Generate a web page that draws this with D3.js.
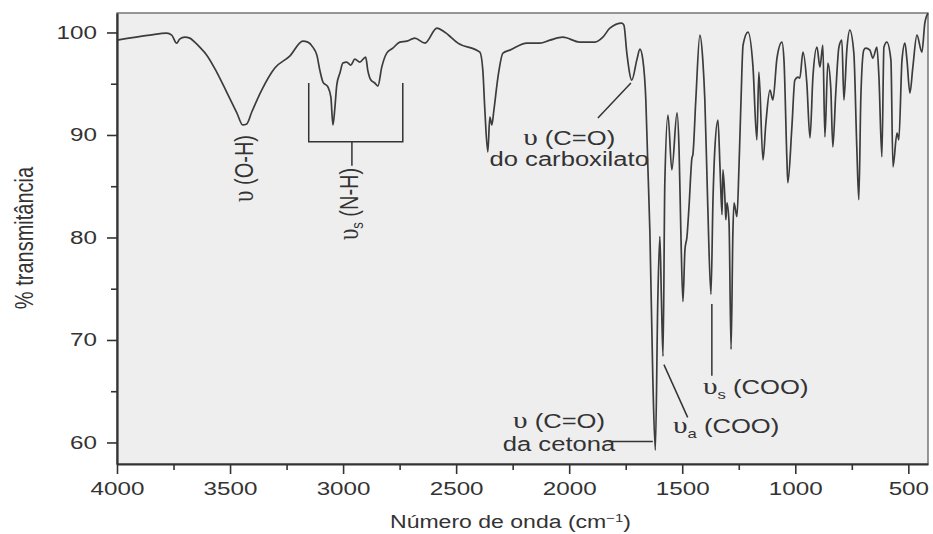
<!DOCTYPE html>
<html>
<head>
<meta charset="utf-8">
<script src="https://cdn.jsdelivr.net/npm/d3@7"></script>
<style>
  body { margin: 0; background: #fff; }
  text { font-family: "Liberation Sans", Arial, sans-serif; fill: #333; }
</style>
</head>
<body>
<div id="chart"></div>
<script>
// IR spectrum (cm-1 and % transmittance)
const wavenumber = [
  4000, 3855, 3780, 3758, 3736, 3723, 3700, 3678, 3656, 3634, 3603, 3559, 3515, 3470, 3444, 3426,
  3404, 3360, 3302, 3236, 3178, 3156, 3134, 3116, 3103, 3089, 3067, 3054, 3045, 3036, 3028, 3014,
  3001, 2984, 2966, 2948, 2926, 2900, 2891, 2877, 2860, 2846, 2829, 2807, 2780, 2749, 2718, 2683,
  2638, 2585, 2550, 2492, 2395, 2382, 2373, 2360, 2351, 2342, 2333, 2315, 2293, 2262, 2187, 2130,
  2085, 2028, 1953, 1886, 1851, 1820, 1767, 1758, 1745, 1723, 1701, 1687, 1674, 1661, 1652, 1643,
  1630, 1619, 1608, 1599, 1592, 1585, 1577, 1563, 1546, 1523, 1514, 1506, 1497, 1488, 1479, 1470,
  1457, 1453, 1440, 1422, 1409, 1400, 1387, 1373, 1364, 1356, 1342, 1333, 1324, 1320, 1311, 1307,
  1302, 1293, 1284, 1276, 1271, 1258, 1249, 1240, 1231, 1209, 1187, 1170, 1161, 1143, 1130, 1112,
  1099, 1081, 1059, 1050, 1037, 1033, 1015, 1002, 988, 980, 966, 949, 935, 922, 904, 891,
  878, 869, 856, 843, 834, 821, 807, 794, 785, 772, 759, 741, 728, 719, 710, 697,
  688, 670, 657, 639, 630, 617, 608, 595, 577, 568, 550, 542, 528, 515, 506, 493,
  480, 462, 440, 427, 413
];
const transmittance = [
  99.25, 99.74, 99.93, 99.74, 98.96, 99.35, 99.54, 99.45, 99.06, 98.57, 97.79, 96.14, 94.19, 92.15, 90.98, 91.08,
  92.24, 94.38, 96.53, 97.69, 99.15, 99.06, 98.57, 97.79, 96.33, 95.16, 94.68, 93.70, 90.98, 92.73, 94.87, 96.04,
  97.01, 97.11, 96.82, 97.40, 97.11, 97.60, 96.33, 95.36, 95.07, 94.77, 96.62, 97.99, 98.47, 99.06, 99.15, 99.45,
  98.96, 100.42, 100.03, 98.96, 98.08, 96.33, 92.43, 88.35, 91.75, 90.98, 92.43, 95.65, 97.99, 98.28, 98.96, 98.96,
  99.25, 99.54, 99.06, 99.06, 99.54, 100.42, 100.91, 100.71, 97.99, 95.36, 97.30, 98.37, 97.30, 93.41, 86.89, 80.47,
  66.16, 59.25, 73.96, 80.09, 73.96, 68.41, 85.34, 91.95, 86.60, 92.15, 88.55, 80.47, 73.75, 78.81, 80.09, 83.01,
  87.77, 88.06, 93.41, 99.74, 97.30, 93.41, 83.01, 74.45, 83.68, 88.55, 91.46, 86.89, 82.22, 86.60, 83.68, 81.73,
  83.39, 81.44, 69.08, 80.47, 83.39, 82.03, 86.89, 93.41, 98.76, 100.03, 96.62, 89.52, 96.14, 87.57, 91.17, 94.38,
  93.41, 97.50, 99.06, 97.30, 87.57, 85.34, 90.78, 95.36, 95.65, 95.55, 98.08, 95.07, 89.71, 95.65, 98.57, 96.62,
  98.76, 89.81, 97.01, 94.58, 88.84, 94.09, 98.57, 99.25, 93.41, 98.28, 100.22, 97.99, 88.84, 83.68, 93.70, 98.28,
  98.47, 98.28, 97.50, 98.57, 95.65, 87.87, 98.57, 99.06, 97.30, 86.89, 90.19, 89.52, 97.30, 98.96, 97.30, 94.09,
  96.62, 99.74, 98.08, 100.91, 101.88
];

const xTicks = [4000, 3500, 3000, 2500, 2000, 1500, 1000, 500];
const xMinorTicks = [3750, 3250, 2750, 2250, 1750, 1250, 750];
const yTicks = [60, 70, 80, 90, 100];
const yMinorTicks = [65, 75, 85, 95];

const width = 933;
const height = 534;
const margin = { top: 13, right: 5, bottom: 70, left: 117 };
const stretch = 1.28; // the lettering in the picture is a bit wide

const svg = d3.select('#chart')
  .append('svg')
  .attr('width', width)
  .attr('height', height);

const x = d3.scaleLinear().domain([4000, 413]).range([margin.left, width - margin.right]);
const y = d3.scaleLinear().domain([57.9, 101.9]).range([height - margin.bottom, margin.top]);

// plot area
svg.append('rect')
  .attr('x', margin.left)
  .attr('y', margin.top)
  .attr('width', width - margin.left - margin.right)
  .attr('height', height - margin.top - margin.bottom)
  .attr('fill', '#eeeeee')
  .attr('stroke', '#555')
  .attr('stroke-width', 1.2);

// spectrum
const points = wavenumber.map((w, i) => [w, transmittance[i]]);
const line = d3.line()
  .x(d => x(d[0]))
  .y(d => y(d[1]))
  .curve(d3.curveMonotoneX);

svg.append('path')
  .datum(points)
  .attr('d', line)
  .attr('fill', 'none')
  .attr('stroke', '#3c3c3c')
  .attr('stroke-width', 1.7)
  .attr('stroke-linejoin', 'round');

// axes
const styleAxis = g => {
  g.selectAll('path.domain').attr('stroke', '#333').attr('stroke-width', 2.2);
  g.selectAll('.tick line').attr('stroke', '#333').attr('stroke-width', 1.6);
};

const xAxis = svg.append('g')
  .attr('transform', `translate(0,${height - margin.bottom})`)
  .call(d3.axisBottom(x).tickValues(xTicks).tickFormat(d3.format('d'))
    .tickSize(10).tickSizeOuter(0).tickPadding(8))
  .call(styleAxis);
xAxis.selectAll('.tick text')
  .attr('fill', '#333')
  .style('font-size', '18.5px')
  .attr('transform', `scale(${stretch + 0.03},1)`);

svg.append('g')
  .attr('transform', `translate(0,${height - margin.bottom})`)
  .call(d3.axisBottom(x).tickValues(xMinorTicks).tickSize(6).tickFormat(''))
  .call(g => g.select('.domain').remove())
  .call(styleAxis);

const yAxis = svg.append('g')
  .attr('transform', `translate(${margin.left},0)`)
  .call(d3.axisLeft(y).tickValues(yTicks).tickSize(10).tickSizeOuter(0).tickPadding(10))
  .call(styleAxis);
yAxis.selectAll('.tick text')
  .attr('fill', '#333')
  .style('font-size', '18.5px')
  .attr('x', 0)
  .attr('transform', `translate(-20,0) scale(${stretch + 0.03},1)`);

svg.append('g')
  .attr('transform', `translate(${margin.left},0)`)
  .call(d3.axisLeft(y).tickValues(yMinorTicks).tickSize(6).tickFormat(''))
  .call(g => g.select('.domain').remove())
  .call(styleAxis);

// text helper: pieces are {t, greek, sub, sup}
const addText = (px, py, pieces, opts = {}) => {
  const size = opts.size || 20;
  const tf = opts.rotate
    ? `translate(${px},${py}) rotate(-90) scale(1,${stretch})`
    : `translate(${px},${py}) scale(${stretch},1)`;
  const t = svg.append('text')
    .attr('transform', tf)
    .attr('text-anchor', opts.anchor || 'start')
    .style('font-size', size + 'px');
  pieces.forEach(p => {
    const ts = t.append('tspan').text(p.t);
    if (p.greek) {
      ts.style('font-family', '"Liberation Serif", "DejaVu Serif", serif')
        .style('font-size', (size * 1.15) + 'px');
    }
    if (p.sub) ts.attr('baseline-shift', '-4px').style('font-size', (size * 0.65) + 'px');
    if (p.sup) ts.attr('baseline-shift', 'super').style('font-size', (size * 0.65) + 'px');
  });
  return t;
};

const ink = sel => sel.attr('stroke', '#333').attr('stroke-width', 1.5).attr('fill', 'none');

// axis titles
addText((margin.left + width - margin.right) / 2 - 12, 528,
  [{ t: 'Número de onda (cm' }, { t: '−1', sup: true }, { t: ')' }],
  { anchor: 'middle', size: 18 });
addText(33, 238, [{ t: '% transmitância' }], { anchor: 'middle', size: 20, rotate: true });

// O-H band
addText(x(3400), y(90.0), [{ t: 'υ', greek: true }, { t: ' (O-H)' }], { anchor: 'end', rotate: true });

// N-H bracket
svg.append('path')
  .attr('d', `M${x(3152)},${y(95.07)}V${y(89.33)}H${x(2736)}V${y(95.07)}M${x(2961)},${y(89.33)}V${y(87.0)}`)
  .call(ink);
addText(x(2935), y(86.8), [{ t: 'υ', greek: true }, { t: 's', sub: true }, { t: ' (N-H)' }], { anchor: 'end', rotate: true });

// carboxylate C=O
svg.append('line')
  .attr('x1', x(1873)).attr('y1', y(91.65))
  .attr('x2', x(1727)).attr('y2', y(95.07))
  .call(ink);
addText(x(2000), y(89.03), [{ t: 'υ', greek: true }, { t: ' (C=O)' }], { anchor: 'middle' });
addText(x(2000), y(86.99), [{ t: 'do carboxilato' }], { anchor: 'middle' });

// ketone C=O
svg.append('line')
  .attr('x1', x(1825)).attr('y1', y(60.1))
  .attr('x2', x(1630)).attr('y2', y(60.1))
  .call(ink);
addText(x(2045), y(61.39), [{ t: 'υ', greek: true }, { t: ' (C=O)' }], { anchor: 'middle' });
addText(x(2045), y(59.15), [{ t: 'da cetona' }], { anchor: 'middle' });

// asymmetric COO
svg.append('line')
  .attr('x1', x(1581)).attr('y1', y(67.6))
  .attr('x2', x(1476)).attr('y2', y(62.45))
  .call(ink);
addText(x(1541), y(60.9), [{ t: 'υ', greek: true }, { t: 'a', sub: true }, { t: ' (COO)' }]);

// symmetric COO
svg.append('line')
  .attr('x1', x(1369)).attr('y1', y(73.5))
  .attr('x2', x(1369)).attr('y2', y(66.5))
  .call(ink);
addText(x(1408), y(64.7), [{ t: 'υ', greek: true }, { t: 's', sub: true }, { t: ' (COO)' }]);
</script>
</body>
</html>
